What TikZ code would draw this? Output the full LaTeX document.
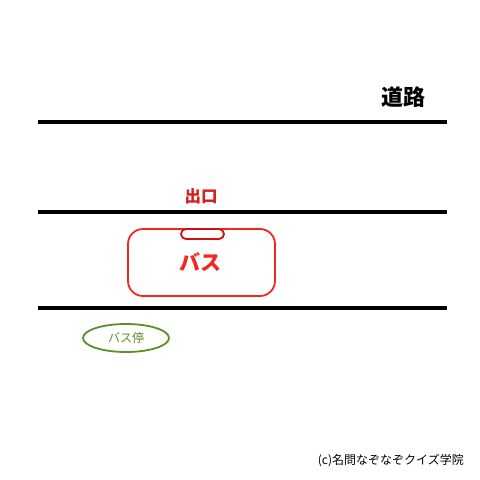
\documentclass[tikz,border=0pt]{standalone}
\usepackage{fontspec}
\newfontfamily\cjk{Noto Sans CJK JP}
\definecolor{busred}{HTML}{F0281E}
\definecolor{darkred}{HTML}{D01010}
\definecolor{txtred}{HTML}{D42020}
\definecolor{stopgreen}{HTML}{5A8F2A}
\tikzset{
  road/.style={line width=4pt, black},
  lbl/.style={inner sep=0pt, font=\cjk\bfseries},
}
\begin{document}
\begin{tikzpicture}[x=1pt,y=-1pt]
\useasboundingbox (0,0) rectangle (480,480);
\fill[white] (0,0) rectangle (480,480);
\draw[road] (38,122) -- (447,122);
\draw[road] (38,212) -- (447,212);
\draw[road] (38,308) -- (447,308);
\node[lbl, font=\cjk\bfseries\fontsize{22}{22}\selectfont] (road) at (403,97) {道路};
\node[lbl, text=txtred, font=\cjk\bfseries\fontsize{16.5}{16.5}\selectfont] (exit) at (201,196) {出口};
\draw[busred, line width=1.8pt, rounded corners=15pt] (128,229) rectangle (275,296);
\draw[darkred, line width=1.8pt, rounded corners=5pt] (181,229) rectangle (224,239);
\node[lbl, text=busred, font=\cjk\bfseries\fontsize{21}{21}\selectfont] (buslbl) at (200,262) {バス};
\draw[stopgreen, line width=1.8pt] (126,338) ellipse [x radius=43, y radius=14];
\node[lbl, text=stopgreen, font=\cjk\fontsize{12}{12}\selectfont] (stop) at (126,338) {バス停};
\node[inner sep=0pt, anchor=east, font=\cjk\fontsize{12}{12}\selectfont] (copy) at (464,461) {(c)名問なぞなぞクイズ学院};
\end{tikzpicture}
\end{document}
